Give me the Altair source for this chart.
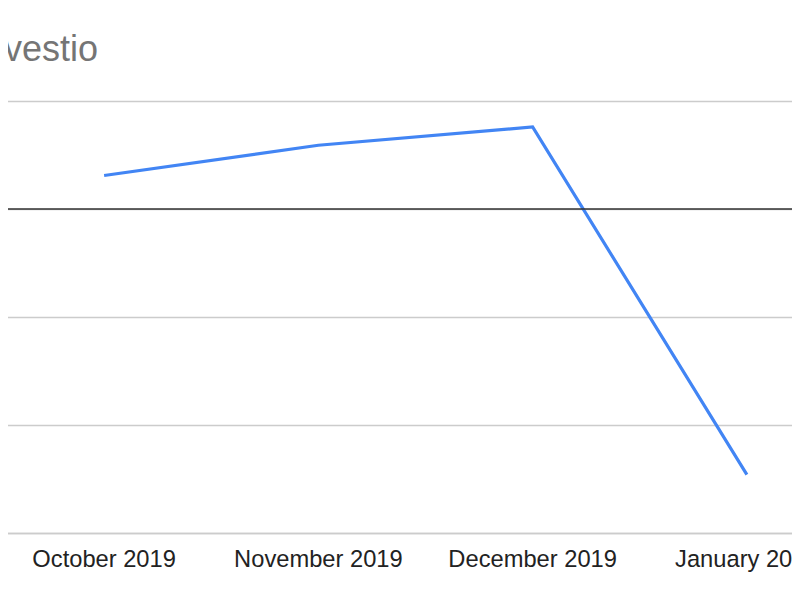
import altair as alt
import pandas as pd

months = ["October 2019", "November 2019", "December 2019", "January 2020"]
values = [0.31, 0.59, 0.76, -2.46]
title_text = "Investio"

df = pd.DataFrame({"month": months, "value": values})
zero_df = pd.DataFrame({"z": [0]})

yscale = alt.Scale(domain=[-3, 1], nice=False, zero=False)

x = alt.X("month:N", sort=months, title=None,
          scale=alt.Scale(type="band", paddingInner=0, paddingOuter=0),
          axis=alt.Axis(labelAngle=0, ticks=False, domain=True, domainColor="#cccccc",
                        domainWidth=1.5, labelFont="Liberation Sans", labelFontSize=23.7,
                        labelColor="#222222", labelPadding=14, grid=False))
y = alt.Y("value:Q", title=None, scale=yscale,
          axis=alt.Axis(values=[-3, -2, -1, 0, 1], labels=False, ticks=False, domain=False,
                        grid=True, gridColor="#cccccc", gridWidth=1.5))

line = alt.Chart(df).mark_line(color="#4285f4", strokeWidth=3.2, strokeJoin="miter").encode(x=x, y=y)

zero = alt.Chart(zero_df).mark_rule(color="#333333", strokeWidth=1.5).encode(
    y=alt.Y("z:Q", scale=yscale)
)

chart = alt.layer(line, zero).properties(
    width=857, height=432,
    title=alt.TitleParams(title_text, anchor="start", frame="group", dx=-23, offset=4,
                          baseline="alphabetic", font="Liberation Sans", fontSize=36,
                          fontWeight="normal", color="#757575"),
    autosize=alt.AutoSizeParams(type="none"),
    padding={"left": -11, "top": 93, "right": -62, "bottom": 60},
).configure_view(stroke=None)

chart.save("out.html", embed_options={"renderer": "svg", "actions": False})
